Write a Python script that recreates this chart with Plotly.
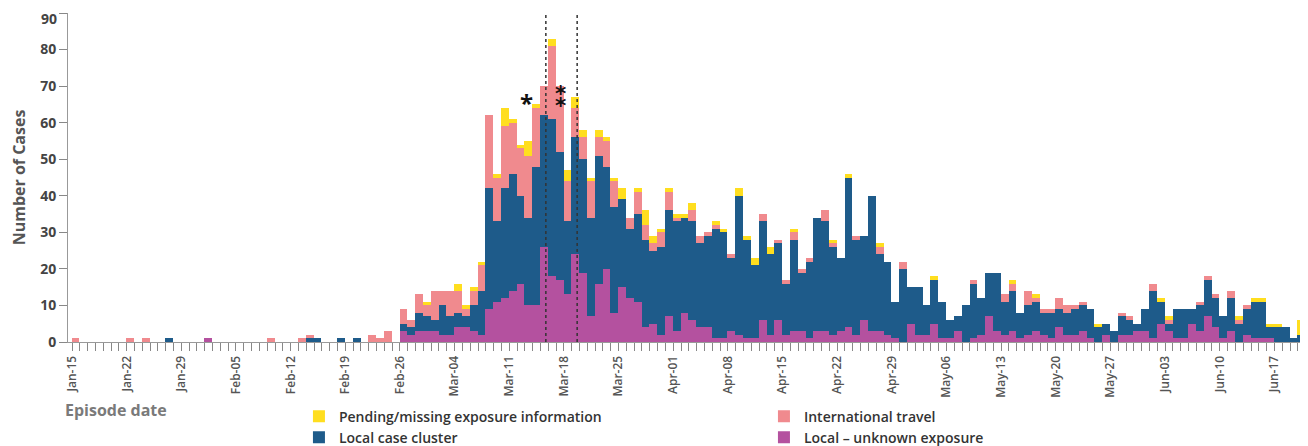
import pandas as pd
import plotly.graph_objects as go

dates = pd.date_range("2020-01-15", periods=158, freq="D").strftime("%Y-%m-%d").tolist()

local_unknown = [
    0,0,0,0,0,0,0,
    0,0,0,0,0,0,0,
    0,0,0,1,0,0,0,
    0,0,0,0,0,0,0,
    0,0,0,0,0,0,0,
    0,0,0,0,0,0,0,
    3,2,3,3,3,2,2,
    4,4,3,2,9,11,12,
    14,16,10,10,26,18,17,
    13,24,19,7,16,20,8,
    15,12,11,4,5,2,7,
    3,8,6,4,4,1,1,
    3,2,1,1,6,2,6,
    2,3,3,1,3,3,2,
    3,4,2,6,3,3,2,
    1,0,5,2,2,5,1,
    1,3,0,1,2,7,3,
    2,3,1,2,3,2,1,
    4,2,2,3,1,0,2,
    0,2,2,3,3,1,5,
    3,1,1,5,3,7,4,
    1,3,0,2,1,1,1,
    0,0,0,0,
]

local_cluster = [
    0,0,0,0,0,0,0,
    0,0,0,0,0,1,0,
    0,0,0,0,0,0,0,
    0,0,0,0,0,0,0,
    0,0,1,1,0,0,1,
    0,1,0,0,0,0,0,
    2,2,5,4,3,8,5,
    4,3,7,12,33,22,30,
    32,24,24,38,36,43,35,
    20,32,31,27,35,28,29,
    24,19,24,24,20,24,29,
    30,26,27,23,25,30,29,
    20,38,27,20,27,22,21,
    14,25,16,21,31,30,24,
    20,41,26,23,37,21,20,
    10,20,10,13,8,12,10,
    5,4,10,15,10,12,16,
    9,11,7,8,8,6,7,
    5,6,7,7,8,4,3,
    3,5,4,2,6,13,6,
    2,8,8,4,7,10,8,
    6,9,5,7,10,10,3,
    4,4,1,2,
]

international = [
    1,0,0,0,0,0,0,
    1,0,1,0,0,0,0,
    0,0,0,0,0,0,0,
    0,0,0,0,1,0,0,
    0,1,1,0,0,0,0,
    0,0,0,2,1,3,0,
    4,2,5,3,8,4,7,
    6,2,4,7,20,12,17,
    14,13,17,16,8,20,18,
    11,8,6,10,5,7,7,
    0,3,6,4,2,4,5,
    1,0,3,2,1,1,0,
    1,0,0,0,2,0,1,
    1,2,1,1,0,3,1,
    0,0,1,0,0,2,0,
    0,2,0,0,0,0,0,
    0,0,0,1,0,0,0,
    2,2,0,4,1,1,1,
    3,2,1,1,0,0,0,
    0,1,1,0,0,2,0,
    1,0,0,0,1,1,1,
    0,2,1,1,0,0,0,
    0,0,0,0,
]

pending = [
    0,0,0,0,0,0,0,
    0,0,0,0,0,0,0,
    0,0,0,0,0,0,0,
    0,0,0,0,0,0,0,
    0,0,0,0,0,0,0,
    0,0,0,0,0,0,0,
    0,0,0,1,0,0,0,
    2,1,1,1,0,1,5,
    1,1,4,1,0,2,0,
    3,3,2,1,2,1,1,
    3,0,1,4,2,1,1,
    1,1,2,0,0,1,1,
    0,2,1,2,0,2,0,
    0,1,0,0,0,0,1,
    0,1,0,0,0,1,0,
    0,0,0,0,0,1,0,
    0,0,0,0,0,0,0,
    0,1,0,0,1,0,0,
    0,0,0,0,0,1,0,
    0,0,0,0,0,0,1,
    1,0,0,0,0,0,0,
    0,0,1,0,1,1,1,
    1,0,0,4,
]

y_ticks = [0, 10, 20, 30, 40, 50, 60, 70, 80, 90]
y_ticktext = ["0", "10", "20", "30", "40", "50", "60", "70", "80", ""]  # "90" drawn below its tick so it is not clipped

series = [
    ("Local \u2013 unknown exposure", local_unknown, "#B4519F", 4),
    ("Local case cluster", local_cluster, "#1E5B8A", 3),
    ("International travel", international, "#F08A8E", 2),
    ("Pending/missing exposure information", pending, "#FFDE1F", 1),
]

DAY = 86400000
fig = go.Figure()
for name, vals, color, rank in series:
    fig.add_trace(go.Bar(
        x=dates, y=vals, name=name, marker_color=color,
        marker_line_width=0, width=DAY, offset=-0.05 * DAY,
        legendrank=rank,
    ))

# dashed reference lines
for xl in ["2020-03-15 16:30", "2020-03-19 16:45"]:
    fig.add_shape(type="line", x0=xl, x1=xl, y0=0, y1=90, xref="x", yref="y",
                  line=dict(color="#333333", width=1.5, dash="3px,3px"))

annots = [
    dict(x="2020-03-13 06:00", y=66.5, text="<b>*</b>", showarrow=False,
         font=dict(size=24, color="#111111", family="Open Sans"),
         yanchor="middle", xanchor="center", yshift=-4),
    dict(x="2020-03-17 14:00", y=67.8, text="<b>\u2051</b>", showarrow=False,
         font=dict(size=27, color="#111111", family="DejaVu Sans"),
         yanchor="middle", xanchor="center", yshift=-3),
    dict(text="<b>Episode date</b>", xref="paper", yref="paper",
         x=-0.004, y=-0.167, xanchor="left", yanchor="top", showarrow=False,
         font=dict(size=16, color="#7a7a7a", family="Open Sans")),
    dict(text="<b>90</b>", xref="paper", yref="y", x=0, y=90,
         xanchor="right", yanchor="top", xshift=-9, yshift=6, showarrow=False,
         font=dict(size=14, color="#444444", family="Open Sans")),
]

# the page adds an 8px body margin, so the figure is 8px smaller than the window
fig.update_layout(
    width=1300, height=438,
    margin=dict(l=60, r=3, t=5, b=104, autoexpand=False),
    barmode="stack", bargap=0,
    plot_bgcolor="white", paper_bgcolor="white",
    font=dict(family="Open Sans", color="#444444"),
    legend=dict(
        orientation="h", x=0.1867, y=-0.178, xanchor="left", yanchor="top",
        entrywidth=420, entrywidthmode="pixels",
        font=dict(size=14, color="#333333", family="Open Sans", weight=600),
        traceorder="normal", itemclick=False,
    ),
    annotations=annots,
)

fig.update_xaxes(
    type="date",
    range=["2020-01-14 11:40", "2020-06-20 22:00"],
    tick0="2020-01-15", dtick=7 * DAY, tickformat="%b-%d", tickangle=-90,
    ticks="outside", ticklen=8, tickcolor="#888888", tickwidth=1,
    minor=dict(dtick=DAY, ticks="outside", ticklen=8, tickcolor="#888888", tickwidth=1),
    showline=True, linecolor="#999999", linewidth=1,
    showgrid=False, zeroline=False,
    tickfont=dict(size=12, color="#555555", family="Open Sans", weight=600),
)
fig.update_yaxes(
    range=[0, 90], tickmode="array", tickvals=y_ticks, ticktext=y_ticktext,
    ticks="outside", ticklen=8, tickcolor="#888888",
    showline=True, linecolor="#999999", linewidth=1,
    showgrid=False, zeroline=False,
    tickfont=dict(size=14, color="#444444", family="Open Sans", weight="bold"),
    title=dict(text="<b>Number of Cases</b>", standoff=10,
               font=dict(size=16, color="#555555", family="Open Sans")),
)

fig.write_html("out.html")
